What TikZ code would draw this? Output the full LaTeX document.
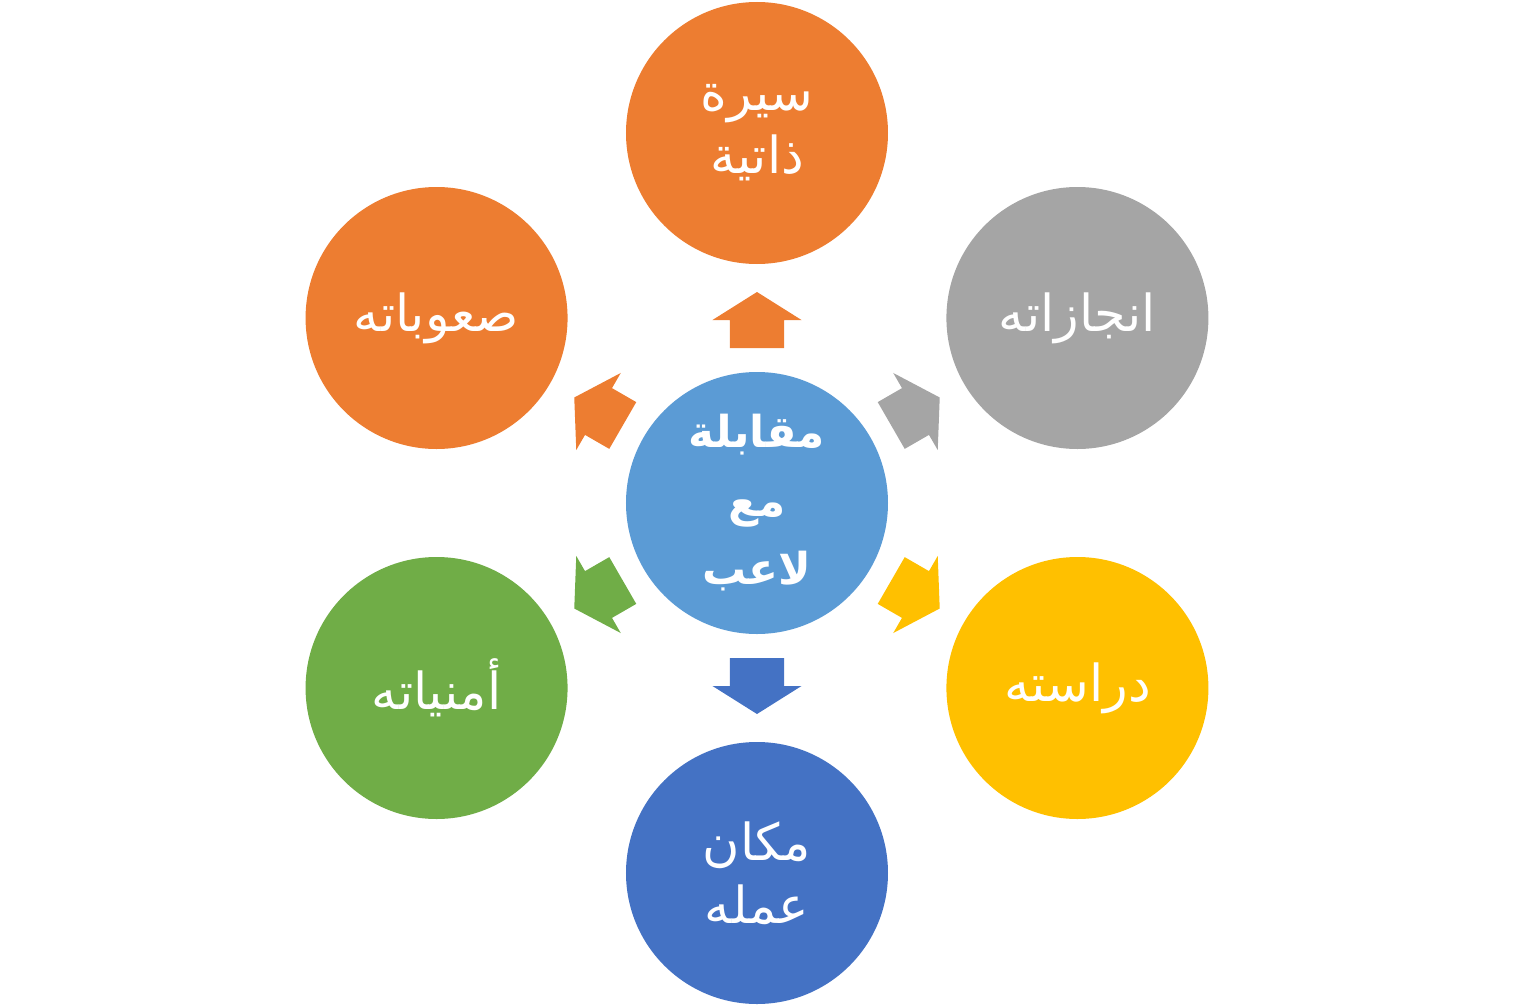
\documentclass[tikz,border=0pt]{standalone}
\usepackage{fontspec}
\newfontfamily\arabicfont[Script=Arabic]{DejaVu Sans}
\TeXXeTstate=1
\definecolor{hubblue}{HTML}{5B9BD5}
\definecolor{orng}{HTML}{ED7D31}
\definecolor{gry}{HTML}{A5A5A5}
\definecolor{gold}{HTML}{FFC000}
\definecolor{darkblue}{HTML}{4472C4}
\definecolor{grn}{HTML}{70AD47}
\tikzset{bubble/.style={circle, minimum size=5.24cm, inner sep=0pt, text=white, align=center, font=\arabicfont\fontsize{29}{36}\selectfont}}
\tikzset{hubtext/.style={font=\arabicfont\bfseries\fontsize{25}{39}\selectfont}}

\begin{document}
\begin{tikzpicture}
	    \useasboundingbox (-15.14,-10.08) rectangle (15.14,10.06);
	    \node[bubble, hubtext, fill=hubblue] (hub) at (0,0) {\beginR مقابلة\endR\\\beginR مع\endR\\\beginR لاعب\endR};

	    \node[bubble, fill=orng] (bio) at (90:7.4) {\beginR سيرة\endR\\\beginR ذاتية\endR};
	    \node[bubble, fill=gry] (achv) at (30:7.4) {\beginR انجازاته\endR};
	    \node[bubble, fill=gold] (study) at (-30:7.4) {\beginR دراسته\endR};
	    \node[bubble, fill=darkblue] (work) at (-90:7.4) {\beginR مكان\endR\\\beginR عمله\endR};
	    \node[bubble, fill=grn] (wish) at (210:7.4) {\beginR أمنياته\endR};
	    \node[bubble, fill=orng] (hard) at (150:7.4) {\beginR صعوباته\endR};

	    % block arrows from the hub outwards
	    \foreach \ang/\col in {90/orng, 30/gry, -30/gold, -90/darkblue, 210/grn, 150/orng}
	        \fill[\col, shift={(hub.center)}, rotate=\ang] (3.1,-0.54) -- (3.66,-0.54) -- (3.66,-0.89) -- (4.22,0) -- (3.66,0.89) -- (3.66,0.54) -- (3.1,0.54) -- cycle;
\end{tikzpicture}
\end{document}
